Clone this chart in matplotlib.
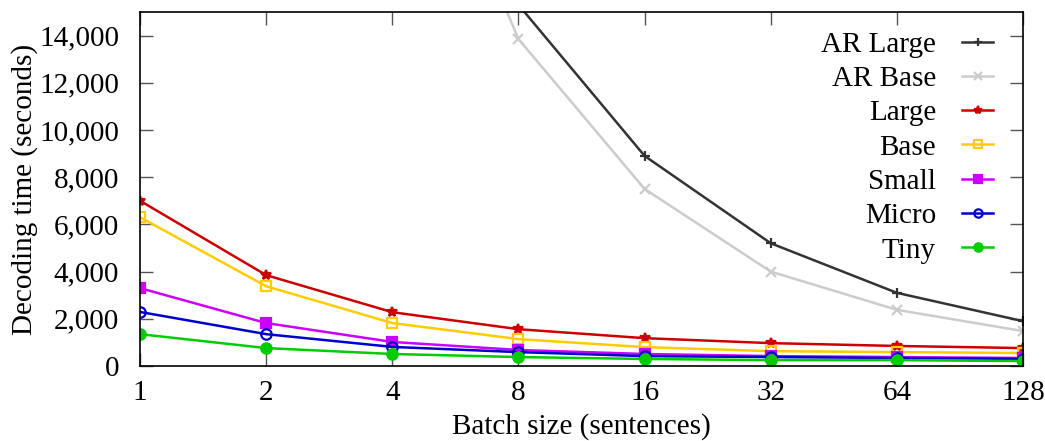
import matplotlib
matplotlib.use("Agg")
import matplotlib.pyplot as plt
from matplotlib.ticker import FuncFormatter, FixedLocator, NullLocator

plt.rcParams['font.family'] = ['Liberation Serif', 'DejaVu Serif']
plt.rcParams['font.size'] = 21

# batch sizes (sentences)
batch = [1, 2, 4, 8, 16, 32, 64, 128]

# decoding time in seconds (AR values at small batch are off the top)
ar_large = [110000, 58000, 29500, 15300, 8900, 5200, 3100, 1900]
ar_base = [95000, 50000, 26500, 13850, 7500, 4000, 2380, 1480]
large = [7000, 3850, 2280, 1560, 1180, 970, 850, 760]
base = [6300, 3380, 1820, 1140, 800, 630, 590, 550]
small = [3300, 1820, 1020, 680, 510, 420, 380, 340]
micro = [2290, 1350, 810, 590, 420, 380, 340, 300]
tiny = [1350, 760, 510, 380, 300, 250, 250, 210]

series = [
    ("AR Large", ar_large, "#333333", "+", "full"),
    ("AR Base", ar_base, "#cccccc", "x", "full"),
    ("Large", large, "#cc0000", "*", "full"),
    ("Base", base, "#ffcc00", "s", "none"),
    ("Small", small, "#cc00ff", "s", "full"),
    ("Micro", micro, "#0000cc", "o", "none"),
    ("Tiny", tiny, "#00cc00", "o", "full"),
]

fig = plt.figure(figsize=(10.45, 4.41), dpi=100)
ax = fig.add_axes([0.134, 0.170, 0.845, 0.803])

for name, vals, col, mk, fill in series:
    ax.plot(batch, vals, color=col, marker=mk, fillstyle=fill, lw=1.8,
            markersize=7.5, markeredgewidth=1.6, label=name)

ax.set_xscale('log', base=2)
ax.set_xlim(1, 128)
ax.set_ylim(0, 15000)
ax.xaxis.set_major_locator(FixedLocator(batch))
ax.xaxis.set_minor_locator(NullLocator())
ax.xaxis.set_major_formatter(FuncFormatter(lambda v, p: "%d" % v))
ax.set_yticks(range(0, 15000, 2000))
ax.yaxis.set_major_formatter(FuncFormatter(lambda v, p: "{:,}".format(int(v))))
ax.tick_params(direction='in', length=9.5, width=1, color='#555555',
               top=True, right=True)
ax.tick_params(axis='x', pad=10)
ax.tick_params(axis='y', pad=15)
for s in ax.spines.values():
    s.set_linewidth(1.2)

ax.set_xlabel('Batch size (sentences)', labelpad=5)
ax.set_ylabel('Decoding time (seconds)')
ax.yaxis.set_label_coords(-0.1155, 0.5)

ax.legend(loc='upper right', bbox_to_anchor=(0.979, 0.978), frameon=False,
          markerfirst=False, handlelength=1.05, labelspacing=0.27,
          borderaxespad=0.0, handletextpad=0.9, markerscale=0.8)

fig.savefig('out.png', dpi=100)
